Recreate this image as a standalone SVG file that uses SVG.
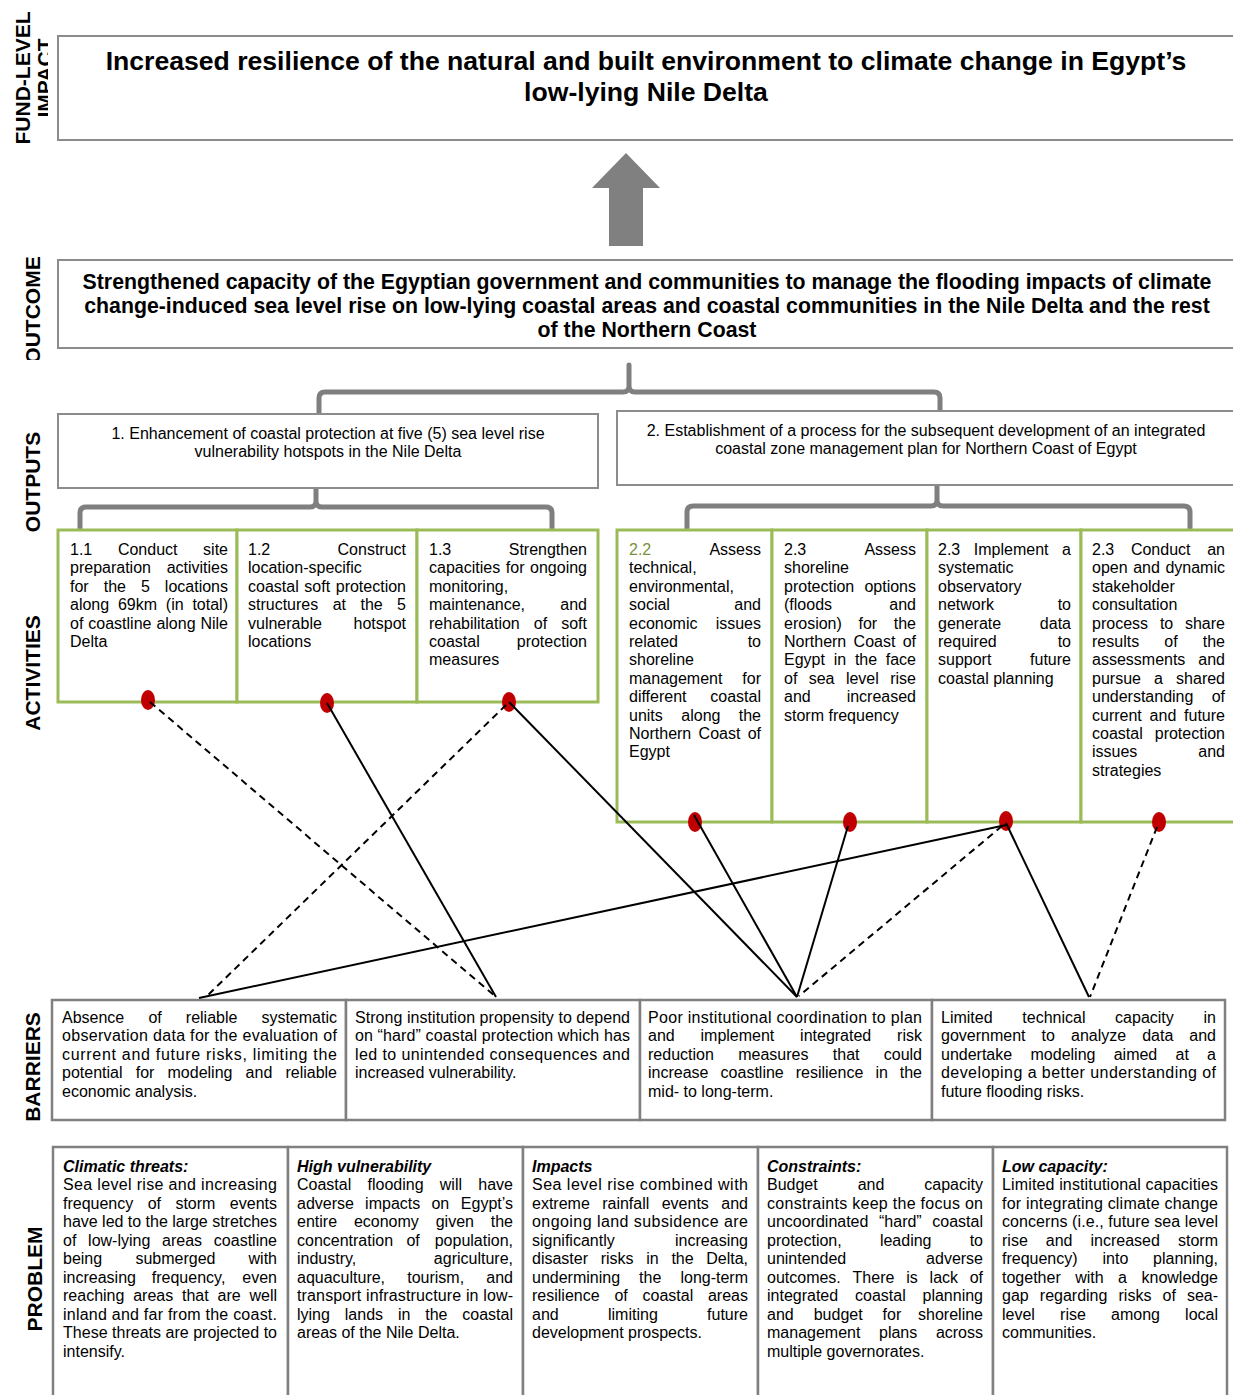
<svg xmlns="http://www.w3.org/2000/svg" width="1233" height="1395" viewBox="0 0 1233 1395">
<style>
.t{font-family:"Liberation Sans",Arial,sans-serif;font-size:16px;fill:#000}
.m{text-anchor:middle}
.hb{font-weight:bold;font-style:italic}
.lab{font-family:"Liberation Sans",Arial,sans-serif;font-size:21px;font-weight:bold;text-anchor:middle;fill:#000}
.big{font-family:"Liberation Sans",Arial,sans-serif;font-weight:bold;text-anchor:middle;fill:#000}
.box{fill:#fff;stroke:#8c8c8c;stroke-width:2}
.box2{fill:#fff;stroke:#808080;stroke-width:2.5}
.act{fill:#fff;stroke:#9BBB59;stroke-width:3}
.dot{fill:#C00000}
.ln{stroke:#000;stroke-width:2;fill:none}
.dash{stroke-dasharray:7 5}
.br{fill:none;stroke:#7f7f7f;stroke-width:5;stroke-linecap:round;stroke-linejoin:round}
.g{fill:#77933C}
</style>
<defs>
<clipPath id="clipImpact"><rect x="0" y="0" width="48" height="160"/></clipPath>
<clipPath id="clipOutcome"><rect x="0" y="240" width="60" height="120"/></clipPath>
</defs>
<rect width="1233" height="1395" fill="#fff"/>

<g id="row-labels">
<text class="lab" transform="translate(30,78) rotate(-90)">FUND-LEVEL</text>
<g clip-path="url(#clipImpact)"><text class="lab" transform="translate(52,78) rotate(-90)">IMPACT</text></g>
<g clip-path="url(#clipOutcome)"><text class="lab" transform="translate(40,310) rotate(-90)">OUTCOME</text></g>
<text class="lab" transform="translate(40,482) rotate(-90)">OUTPUTS</text>
<text class="lab" transform="translate(40,673) rotate(-90)">ACTIVITIES</text>
<text class="lab" transform="translate(40,1067) rotate(-90)">BARRIERS</text>
<text class="lab" transform="translate(42,1279) rotate(-90)">PROBLEM</text>
</g>

<g id="impact">
<rect class="box" x="58" y="36" width="1185" height="104"/>
<text class="big" font-size="26.6" x="646" y="70">Increased resilience of the natural and built environment to climate change in Egypt’s</text>
<text class="big" font-size="26.6" x="646" y="101">low-lying Nile Delta</text>
</g>

<g id="up-arrow">
<polygon points="609,246 643,246 643,188 660,188 626,153 592,188 609,188" fill="#808080"/>
</g>

<g id="outcome">
<rect class="box" x="58" y="260" width="1185" height="88"/>
<text class="big" font-size="21.3" x="647" y="289">Strengthened capacity of the Egyptian government and communities to manage the flooding impacts of climate</text>
<text class="big" font-size="21.3" x="647" y="313">change-induced sea level rise on low-lying coastal areas and coastal communities in the Nile Delta and the rest</text>
<text class="big" font-size="21.3" x="647" y="337">of the Northern Coast</text>
</g>

<g id="brackets">
<path class="br" d="M319,414 V398 Q319,392 325,392 H623 Q629,392 629,386 V365 M629,386 Q629,392 635,392 H934 Q940,392 940,398 V415"/>
<path class="br" d="M80,528 V513 Q80,507 86,507 H310 Q316,507 316,501 V482 M316,501 Q316,507 322,507 H546 Q552,507 552,513 V528"/>
<path class="br" d="M687,528 V512 Q687,506 693,506 H931 Q937,506 937,500 V483 M937,500 Q937,506 943,506 H1184 Q1190,506 1190,512 V528"/>
</g>

<g id="output-1">
<rect class="box" x="58" y="414" width="540" height="74"/>
<text class="t m" x="328" y="439">1. Enhancement of coastal protection at five (5) sea level rise</text>
<text class="t m" x="328" y="457">vulnerability hotspots in the Nile Delta</text>
</g>

<g id="output-2">
<rect class="box" x="617" y="411" width="626" height="74"/>
<text class="t m" x="926" y="436">2. Establishment of a process for the subsequent development of an integrated</text>
<text class="t m" x="926" y="454">coastal zone management plan for Northern Coast of Egypt</text>
</g>

<g id="activity-1-1">
<rect class="act" x="58" y="530" width="179" height="172"/>
<text class="t" y="555"><tspan x="70">1.1</tspan><tspan x="117.9">Conduct</tspan><tspan x="228" text-anchor="end">site</tspan></text>
<text class="t" y="573.4"><tspan x="70">preparation</tspan><tspan x="228" text-anchor="end">activities</tspan></text>
<text class="t" y="591.8"><tspan x="70">for</tspan><tspan x="103.7">the</tspan><tspan x="140.9">5</tspan><tspan x="228" text-anchor="end">locations</tspan></text>
<text class="t" y="610.2"><tspan x="70">along</tspan><tspan x="117.9">69km</tspan><tspan x="165.8">(in</tspan><tspan x="228" text-anchor="end">total)</tspan></text>
<text class="t" y="628.6"><tspan x="70">of</tspan><tspan x="88.3">coastline</tspan><tspan x="156.4">along</tspan><tspan x="228" text-anchor="end">Nile</tspan></text>
<text class="t" x="70" y="647">Delta</text>
</g>

<g id="activity-1-2">
<rect class="act" x="237" y="530" width="180" height="172"/>
<text class="t" y="555"><tspan x="248">1.2</tspan><tspan x="406" text-anchor="end">Construct</tspan></text>
<text class="t" x="248" y="573.4">location-specific</text>
<text class="t" y="591.8"><tspan x="248">coastal</tspan><tspan x="304.3">soft</tspan><tspan x="406" text-anchor="end">protection</tspan></text>
<text class="t" y="610.2"><tspan x="248">structures</tspan><tspan x="332.7">at</tspan><tspan x="360.5">the</tspan><tspan x="406" text-anchor="end">5</tspan></text>
<text class="t" y="628.6"><tspan x="248">vulnerable</tspan><tspan x="406" text-anchor="end">hotspot</tspan></text>
<text class="t" x="248" y="647">locations</text>
</g>

<g id="activity-1-3">
<rect class="act" x="417" y="530" width="181" height="172"/>
<text class="t" y="555"><tspan x="429">1.3</tspan><tspan x="587" text-anchor="end">Strengthen</tspan></text>
<text class="t" y="573.4"><tspan x="429">capacities</tspan><tspan x="505.8">for</tspan><tspan x="587" text-anchor="end">ongoing</tspan></text>
<text class="t" x="429" y="591.8">monitoring,</text>
<text class="t" y="610.2"><tspan x="429">maintenance,</tspan><tspan x="587" text-anchor="end">and</tspan></text>
<text class="t" y="628.6"><tspan x="429">rehabilitation</tspan><tspan x="533.8">of</tspan><tspan x="587" text-anchor="end">soft</tspan></text>
<text class="t" y="647"><tspan x="429">coastal</tspan><tspan x="587" text-anchor="end">protection</tspan></text>
<text class="t" x="429" y="665.4">measures</text>
</g>

<g id="activity-2-2">
<rect class="act" x="617" y="530" width="155" height="292"/>
<text class="t" y="555"><tspan x="629" class="g">2.2</tspan><tspan x="761" text-anchor="end">Assess</tspan></text>
<text class="t" x="629" y="573.4">technical,</text>
<text class="t" x="629" y="591.8">environmental,</text>
<text class="t" y="610.2"><tspan x="629">social</tspan><tspan x="761" text-anchor="end">and</tspan></text>
<text class="t" y="628.6"><tspan x="629">economic</tspan><tspan x="761" text-anchor="end">issues</tspan></text>
<text class="t" y="647"><tspan x="629">related</tspan><tspan x="761" text-anchor="end">to</tspan></text>
<text class="t" x="629" y="665.4">shoreline</text>
<text class="t" y="683.8"><tspan x="629">management</tspan><tspan x="761" text-anchor="end">for</tspan></text>
<text class="t" y="702.2"><tspan x="629">different</tspan><tspan x="761" text-anchor="end">coastal</tspan></text>
<text class="t" y="720.6"><tspan x="629">units</tspan><tspan x="681.3">along</tspan><tspan x="761" text-anchor="end">the</tspan></text>
<text class="t" y="739"><tspan x="629">Northern</tspan><tspan x="698.6">Coast</tspan><tspan x="761" text-anchor="end">of</tspan></text>
<text class="t" x="629" y="757.4">Egypt</text>
</g>

<g id="activity-2-3a">
<rect class="act" x="772" y="530" width="155" height="292"/>
<text class="t" y="555"><tspan x="784">2.3</tspan><tspan x="916" text-anchor="end">Assess</tspan></text>
<text class="t" x="784" y="573.4">shoreline</text>
<text class="t" y="591.8"><tspan x="784">protection</tspan><tspan x="916" text-anchor="end">options</tspan></text>
<text class="t" y="610.2"><tspan x="784">(floods</tspan><tspan x="916" text-anchor="end">and</tspan></text>
<text class="t" y="628.6"><tspan x="784">erosion)</tspan><tspan x="858.5">for</tspan><tspan x="916" text-anchor="end">the</tspan></text>
<text class="t" y="647"><tspan x="784">Northern</tspan><tspan x="853.6">Coast</tspan><tspan x="916" text-anchor="end">of</tspan></text>
<text class="t" y="665.4"><tspan x="784">Egypt</tspan><tspan x="833.7">in</tspan><tspan x="854.9">the</tspan><tspan x="916" text-anchor="end">face</tspan></text>
<text class="t" y="683.8"><tspan x="784">of</tspan><tspan x="808.7">sea</tspan><tspan x="845.9">level</tspan><tspan x="916" text-anchor="end">rise</tspan></text>
<text class="t" y="702.2"><tspan x="784">and</tspan><tspan x="916" text-anchor="end">increased</tspan></text>
<text class="t" x="784" y="720.6">storm frequency</text>
</g>

<g id="activity-2-3b">
<rect class="act" x="927" y="530" width="154" height="292"/>
<text class="t" y="555"><tspan x="938">2.3</tspan><tspan x="973.8">Implement</tspan><tspan x="1071" text-anchor="end">a</tspan></text>
<text class="t" x="938" y="573.4">systematic</text>
<text class="t" x="938" y="591.8">observatory</text>
<text class="t" y="610.2"><tspan x="938">network</tspan><tspan x="1071" text-anchor="end">to</tspan></text>
<text class="t" y="628.6"><tspan x="938">generate</tspan><tspan x="1071" text-anchor="end">data</tspan></text>
<text class="t" y="647"><tspan x="938">required</tspan><tspan x="1071" text-anchor="end">to</tspan></text>
<text class="t" y="665.4"><tspan x="938">support</tspan><tspan x="1071" text-anchor="end">future</tspan></text>
<text class="t" x="938" y="683.8">coastal planning</text>
</g>

<g id="activity-2-3c">
<rect class="act" x="1081" y="530" width="162" height="292"/>
<text class="t" y="555"><tspan x="1092">2.3</tspan><tspan x="1130.9">Conduct</tspan><tspan x="1225" text-anchor="end">an</tspan></text>
<text class="t" y="573.4"><tspan x="1092">open</tspan><tspan x="1133.2">and</tspan><tspan x="1225" text-anchor="end">dynamic</tspan></text>
<text class="t" x="1092" y="591.8">stakeholder</text>
<text class="t" x="1092" y="610.2">consultation</text>
<text class="t" y="628.6"><tspan x="1092">process</tspan><tspan x="1159.9">to</tspan><tspan x="1225" text-anchor="end">share</tspan></text>
<text class="t" y="647"><tspan x="1092">results</tspan><tspan x="1164.3">of</tspan><tspan x="1225" text-anchor="end">the</tspan></text>
<text class="t" y="665.4"><tspan x="1092">assessments</tspan><tspan x="1225" text-anchor="end">and</tspan></text>
<text class="t" y="683.8"><tspan x="1092">pursue</tspan><tspan x="1154.1">a</tspan><tspan x="1225" text-anchor="end">shared</tspan></text>
<text class="t" y="702.2"><tspan x="1092">understanding</tspan><tspan x="1225" text-anchor="end">of</tspan></text>
<text class="t" y="720.6"><tspan x="1092">current</tspan><tspan x="1149.6">and</tspan><tspan x="1225" text-anchor="end">future</tspan></text>
<text class="t" y="739"><tspan x="1092">coastal</tspan><tspan x="1225" text-anchor="end">protection</tspan></text>
<text class="t" y="757.4"><tspan x="1092">issues</tspan><tspan x="1225" text-anchor="end">and</tspan></text>
<text class="t" x="1092" y="775.8">strategies</text>
</g>

<g id="barrier-1">
<rect class="box2" x="52" y="1000" width="294" height="120"/>
<text class="t" y="1023"><tspan x="62">Absence</tspan><tspan x="148.4">of</tspan><tspan x="185.8">reliable</tspan><tspan x="337" text-anchor="end">systematic</tspan></text>
<text class="t" x="62" y="1041.4" textLength="275" lengthAdjust="spacing">observation data for the evaluation of</text>
<text class="t" x="62" y="1059.8" textLength="275" lengthAdjust="spacing">current and future risks, limiting the</text>
<text class="t" y="1078.2"><tspan x="62">potential</tspan><tspan x="135.7">for</tspan><tspan x="167.5">modeling</tspan><tspan x="245.6">and</tspan><tspan x="337" text-anchor="end">reliable</tspan></text>
<text class="t" x="62" y="1096.6">economic analysis.</text>
</g>

<g id="barrier-2">
<rect class="box2" x="346" y="1000" width="294" height="120"/>
<text class="t" x="355" y="1023" textLength="275" lengthAdjust="spacing">Strong institution propensity to depend</text>
<text class="t" x="355" y="1041.4" textLength="275" lengthAdjust="spacing">on “hard” coastal protection which has</text>
<text class="t" x="355" y="1059.8" textLength="275" lengthAdjust="spacing">led to unintended consequences and</text>
<text class="t" x="355" y="1078.2">increased vulnerability.</text>
</g>

<g id="barrier-3">
<rect class="box2" x="640" y="1000" width="292" height="120"/>
<text class="t" x="648" y="1023" textLength="274" lengthAdjust="spacing">Poor institutional coordination to plan</text>
<text class="t" y="1041.4"><tspan x="648">and</tspan><tspan x="700.5">implement</tspan><tspan x="800.1">integrated</tspan><tspan x="922" text-anchor="end">risk</tspan></text>
<text class="t" y="1059.8"><tspan x="648">reduction</tspan><tspan x="738.2">measures</tspan><tspan x="832.8">that</tspan><tspan x="922" text-anchor="end">could</tspan></text>
<text class="t" y="1078.2"><tspan x="648">increase</tspan><tspan x="720.6">coastline</tspan><tspan x="795.7">resilience</tspan><tspan x="875.4">in</tspan><tspan x="922" text-anchor="end">the</tspan></text>
<text class="t" x="648" y="1096.6">mid- to long-term.</text>
</g>

<g id="barrier-4">
<rect class="box2" x="932" y="1000" width="293" height="120"/>
<text class="t" y="1023"><tspan x="941">Limited</tspan><tspan x="1022.3">technical</tspan><tspan x="1115.1">capacity</tspan><tspan x="1216" text-anchor="end">in</tspan></text>
<text class="t" y="1041.4"><tspan x="941">government</tspan><tspan x="1041.6">to</tspan><tspan x="1071">analyze</tspan><tspan x="1142.2">data</tspan><tspan x="1216" text-anchor="end">and</tspan></text>
<text class="t" y="1059.8"><tspan x="941">undertake</tspan><tspan x="1030.5">modeling</tspan><tspan x="1113.7">aimed</tspan><tspan x="1175.6">at</tspan><tspan x="1216" text-anchor="end">a</tspan></text>
<text class="t" x="941" y="1078.2" textLength="275" lengthAdjust="spacing">developing a better understanding of</text>
<text class="t" x="941" y="1096.6">future flooding risks.</text>
</g>

<g id="problem-1">
<rect class="box2" x="53" y="1147" width="235" height="260"/>
<text class="t hb" x="63" y="1171.5">Climatic threats:</text>
<text class="t" x="63" y="1190" textLength="214" lengthAdjust="spacing">Sea level rise and increasing</text>
<text class="t" y="1208.5"><tspan x="63">frequency</tspan><tspan x="147.7">of</tspan><tspan x="175.4">storm</tspan><tspan x="277" text-anchor="end">events</tspan></text>
<text class="t" x="63" y="1227" textLength="214" lengthAdjust="spacing">have led to the large stretches</text>
<text class="t" y="1245.5"><tspan x="63">of</tspan><tspan x="88.1">low-lying</tspan><tspan x="162.1">areas</tspan><tspan x="277" text-anchor="end">coastline</tspan></text>
<text class="t" y="1264"><tspan x="63">being</tspan><tspan x="135.4">submerged</tspan><tspan x="277" text-anchor="end">with</tspan></text>
<text class="t" y="1282.5"><tspan x="63">increasing</tspan><tspan x="151.8">frequency,</tspan><tspan x="277" text-anchor="end">even</tspan></text>
<text class="t" y="1301"><tspan x="63">reaching</tspan><tspan x="133.2">areas</tspan><tspan x="182">that</tspan><tspan x="217.5">are</tspan><tspan x="277" text-anchor="end">well</tspan></text>
<text class="t" x="63" y="1319.5" textLength="214" lengthAdjust="spacing">inland and far from the coast.</text>
<text class="t" x="63" y="1338" textLength="214" lengthAdjust="spacing">These threats are projected to</text>
<text class="t" x="63" y="1356.5">intensify.</text>
</g>

<g id="problem-2">
<rect class="box2" x="288" y="1147" width="235" height="260"/>
<text class="t hb" x="297" y="1171.5">High vulnerability</text>
<text class="t" y="1190"><tspan x="297">Coastal</tspan><tspan x="367.5">flooding</tspan><tspan x="439.8">will</tspan><tspan x="513" text-anchor="end">have</tspan></text>
<text class="t" y="1208.5"><tspan x="297">adverse</tspan><tspan x="365.1">impacts</tspan><tspan x="431.4">on</tspan><tspan x="513" text-anchor="end">Egypt’s</tspan></text>
<text class="t" y="1227"><tspan x="297">entire</tspan><tspan x="353.9">economy</tspan><tspan x="435.7">given</tspan><tspan x="513" text-anchor="end">the</tspan></text>
<text class="t" y="1245.5"><tspan x="297">concentration</tspan><tspan x="406.4">of</tspan><tspan x="513" text-anchor="end">population,</tspan></text>
<text class="t" y="1264"><tspan x="297">industry,</tspan><tspan x="513" text-anchor="end">agriculture,</tspan></text>
<text class="t" y="1282.5"><tspan x="297">aquaculture,</tspan><tspan x="407.2">tourism,</tspan><tspan x="513" text-anchor="end">and</tspan></text>
<text class="t" x="297" y="1301" textLength="216" lengthAdjust="spacing">transport infrastructure in low-</text>
<text class="t" y="1319.5"><tspan x="297">lying</tspan><tspan x="344.8">lands</tspan><tspan x="397.9">in</tspan><tspan x="425.2">the</tspan><tspan x="513" text-anchor="end">coastal</tspan></text>
<text class="t" x="297" y="1338">areas of the Nile Delta.</text>
</g>

<g id="problem-3">
<rect class="box2" x="523" y="1147" width="235" height="260"/>
<text class="t hb" x="532" y="1171.5">Impacts</text>
<text class="t" x="532" y="1190" textLength="216" lengthAdjust="spacing">Sea level rise combined with</text>
<text class="t" y="1208.5"><tspan x="532">extreme</tspan><tspan x="602.2">rainfall</tspan><tspan x="661.7">events</tspan><tspan x="748" text-anchor="end">and</tspan></text>
<text class="t" x="532" y="1227" textLength="216" lengthAdjust="spacing">ongoing land subsidence are</text>
<text class="t" y="1245.5"><tspan x="532">significantly</tspan><tspan x="748" text-anchor="end">increasing</tspan></text>
<text class="t" y="1264"><tspan x="532">disaster</tspan><tspan x="600.7">risks</tspan><tspan x="646.3">in</tspan><tspan x="671.4">the</tspan><tspan x="748" text-anchor="end">Delta,</tspan></text>
<text class="t" y="1282.5"><tspan x="532">undermining</tspan><tspan x="639.1">the</tspan><tspan x="748" text-anchor="end">long-term</tspan></text>
<text class="t" y="1301"><tspan x="532">resilience</tspan><tspan x="614.4">of</tspan><tspan x="642.5">coastal</tspan><tspan x="748" text-anchor="end">areas</tspan></text>
<text class="t" y="1319.5"><tspan x="532">and</tspan><tspan x="608">limiting</tspan><tspan x="748" text-anchor="end">future</tspan></text>
<text class="t" x="532" y="1338">development prospects.</text>
</g>

<g id="problem-4">
<rect class="box2" x="758" y="1147" width="235" height="260"/>
<text class="t hb" x="767" y="1171.5">Constraints:</text>
<text class="t" y="1190"><tspan x="767">Budget</tspan><tspan x="857.7">and</tspan><tspan x="983" text-anchor="end">capacity</tspan></text>
<text class="t" x="767" y="1208.5" textLength="216" lengthAdjust="spacing">constraints keep the focus on</text>
<text class="t" y="1227"><tspan x="767">uncoordinated</tspan><tspan x="879">“hard”</tspan><tspan x="983" text-anchor="end">coastal</tspan></text>
<text class="t" y="1245.5"><tspan x="767">protection,</tspan><tspan x="879.9">leading</tspan><tspan x="983" text-anchor="end">to</tspan></text>
<text class="t" y="1264"><tspan x="767">unintended</tspan><tspan x="983" text-anchor="end">adverse</tspan></text>
<text class="t" y="1282.5"><tspan x="767">outcomes.</tspan><tspan x="852.6">There</tspan><tspan x="906.2">is</tspan><tspan x="929.6">lack</tspan><tspan x="983" text-anchor="end">of</tspan></text>
<text class="t" y="1301"><tspan x="767">integrated</tspan><tspan x="855">coastal</tspan><tspan x="983" text-anchor="end">planning</tspan></text>
<text class="t" y="1319.5"><tspan x="767">and</tspan><tspan x="813.7">budget</tspan><tspan x="882.6">for</tspan><tspan x="983" text-anchor="end">shoreline</tspan></text>
<text class="t" y="1338"><tspan x="767">management</tspan><tspan x="879">plans</tspan><tspan x="983" text-anchor="end">across</tspan></text>
<text class="t" x="767" y="1356.5">multiple governorates.</text>
</g>

<g id="problem-5">
<rect class="box2" x="993" y="1147" width="234" height="260"/>
<text class="t hb" x="1002" y="1171.5">Low capacity:</text>
<text class="t" x="1002" y="1190" textLength="216" lengthAdjust="spacing">Limited institutional capacities</text>
<text class="t" x="1002" y="1208.5" textLength="216" lengthAdjust="spacing">for integrating climate change</text>
<text class="t" x="1002" y="1227" textLength="216" lengthAdjust="spacing">concerns (i.e., future sea level</text>
<text class="t" y="1245.5"><tspan x="1002">rise</tspan><tspan x="1045.8">and</tspan><tspan x="1090.5">increased</tspan><tspan x="1218" text-anchor="end">storm</tspan></text>
<text class="t" y="1264"><tspan x="1002">frequency)</tspan><tspan x="1102.5">into</tspan><tspan x="1218" text-anchor="end">planning,</tspan></text>
<text class="t" y="1282.5"><tspan x="1002">together</tspan><tspan x="1075.2">with</tspan><tspan x="1118.1">a</tspan><tspan x="1218" text-anchor="end">knowledge</tspan></text>
<text class="t" y="1301"><tspan x="1002">gap</tspan><tspan x="1039.8">regarding</tspan><tspan x="1118.5">risks</tspan><tspan x="1162.5">of</tspan><tspan x="1218" text-anchor="end">sea-</tspan></text>
<text class="t" y="1319.5"><tspan x="1002">level</tspan><tspan x="1060.1">rise</tspan><tspan x="1111.1">among</tspan><tspan x="1218" text-anchor="end">local</tspan></text>
<text class="t" x="1002" y="1338">communities.</text>
</g>

<g id="link-dots">
<ellipse class="dot" cx="148" cy="700" rx="7" ry="10"/>
<ellipse class="dot" cx="327" cy="703" rx="7" ry="10"/>
<ellipse class="dot" cx="509" cy="702" rx="7" ry="10"/>
<ellipse class="dot" cx="695" cy="822" rx="7" ry="10"/>
<ellipse class="dot" cx="850" cy="822" rx="7" ry="10"/>
<ellipse class="dot" cx="1006" cy="821" rx="7" ry="10"/>
<ellipse class="dot" cx="1159" cy="822" rx="7" ry="10"/>
</g>

<g id="connectors">
<line class="ln dash" x1="150" y1="702" x2="496" y2="997"/>
<line class="ln" x1="327" y1="703" x2="496" y2="997"/>
<line class="ln dash" x1="506" y1="705" x2="206" y2="997"/>
<line class="ln" x1="509" y1="702" x2="797" y2="997"/>
<line class="ln" x1="694" y1="815" x2="797" y2="997"/>
<line class="ln" x1="848" y1="826" x2="797" y2="997"/>
<line class="ln" x1="1006" y1="825" x2="199" y2="998"/>
<line class="ln dash" x1="1002" y1="826" x2="799" y2="996"/>
<line class="ln" x1="1006" y1="823" x2="1089" y2="997"/>
<line class="ln dash" x1="1157" y1="827" x2="1090" y2="997"/>
</g>
</svg>
